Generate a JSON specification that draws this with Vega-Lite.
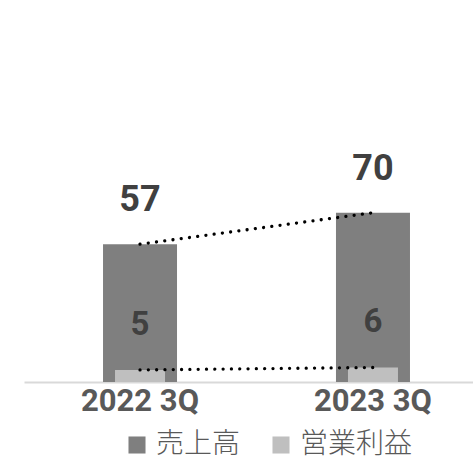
{
  "$schema": "https://vega.github.io/schema/vega-lite/v6.json",
  "autosize": {"type": "none"},
  "padding": {"left": 24, "top": 0, "right": 0, "bottom": 74},
  "width": 449,
  "height": 382,
  "background": "white",
  "config": {
    "view": {"stroke": null},
    "font": "Roboto"
  },
  "data": {
    "values": [
      {"q": "2022 3Q", "series": "売上高", "value": 57},
      {"q": "2023 3Q", "series": "売上高", "value": 70},
      {"q": "2022 3Q", "series": "営業利益", "value": 5},
      {"q": "2023 3Q", "series": "営業利益", "value": 6}
    ]
  },
  "encoding": {
    "x": {
      "field": "q",
      "type": "nominal",
      "sort": ["2022 3Q", "2023 3Q"],
      "scale": {"range": [0, 465], "paddingInner": 0.5, "paddingOuter": 0.248},
      "axis": {
        "title": null,
        "labelAngle": 0,
        "ticks": false,
        "labelPadding": 4,
        "labelFont": "Roboto",
        "labelFontSize": 31,
        "labelFontWeight": "bold",
        "labelColor": "#595959",
        "domainColor": "#d9d9d9",
        "domainWidth": 2,
        "grid": false
      }
    },
    "y": {
      "field": "value",
      "type": "quantitative",
      "scale": {"domain": [0, 158], "nice": false},
      "axis": null
    }
  },
  "layer": [
    {
      "transform": [{"filter": "datum.series === '売上高'"}],
      "mark": {"type": "bar", "width": 74},
      "encoding": {
        "color": {
          "field": "series",
          "type": "nominal",
          "scale": {"domain": ["売上高", "営業利益"], "range": ["#7f7f7f", "#bfbfbf"]},
          "legend": {
            "title": null,
            "orient": "none",
            "direction": "horizontal",
            "legendX": 99,
            "legendY": 431,
            "padding": 0,
            "symbolType": "square",
            "symbolSize": 290,
            "symbolStrokeWidth": 0,
            "labelOffset": 5,
            "columnPadding": 26,
            "labelFont": "Noto Sans CJK JP",
            "labelFontSize": 28,
            "labelFontWeight": 300,
            "labelColor": "#595959",
            "labelLimit": 300
          }
        }
      }
    },
    {
      "transform": [{"filter": "datum.series === '営業利益'"}],
      "mark": {"type": "bar", "width": 50},
      "encoding": {
        "color": {"field": "series", "type": "nominal"}
      }
    },
    {
      "mark": {"type": "line", "color": "black", "strokeWidth": 3.3, "strokeDash": [0.01, 8.3], "strokeCap": "round"},
      "encoding": {
        "detail": {"field": "series", "type": "nominal"}
      }
    },
    {
      "transform": [{"filter": "datum.series === '売上高'"}],
      "mark": {"type": "text", "dy": -44, "baseline": "middle", "font": "Roboto", "fontSize": 36, "fontWeight": "bold", "color": "#404040"},
      "encoding": {
        "text": {"field": "value", "type": "quantitative"}
      }
    },
    {
      "transform": [{"filter": "datum.series === '営業利益'"}],
      "mark": {"type": "text", "dy": -45, "baseline": "middle", "font": "Roboto", "fontSize": 33, "fontWeight": "bold", "color": "#404040"},
      "encoding": {
        "text": {"field": "value", "type": "quantitative"}
      }
    }
  ]
}
